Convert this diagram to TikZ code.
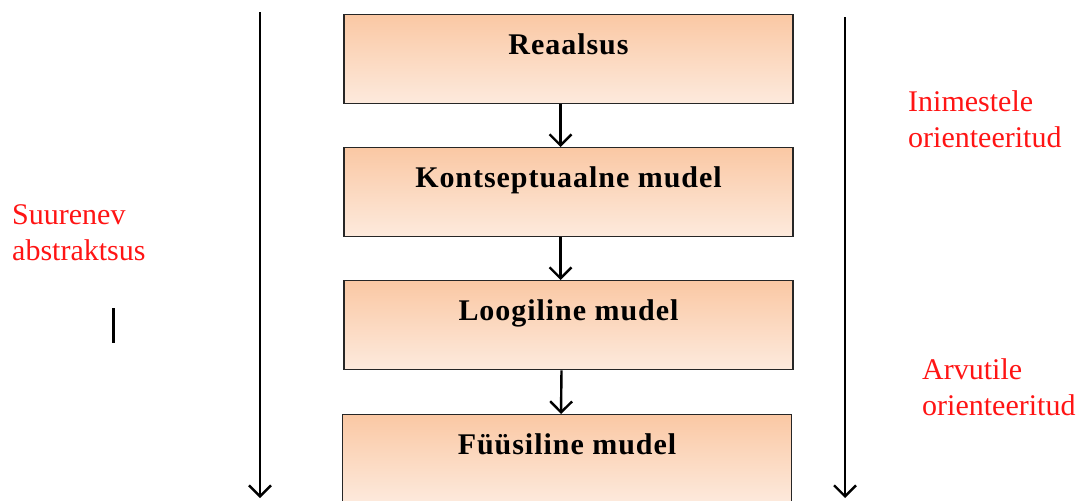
\documentclass[tikz,border=0pt]{standalone}
\usepackage{fontspec}
\setmainfont{Liberation Serif}
\newfontfamily\stagefont[LetterSpace=3.2]{Liberation Serif}
\usetikzlibrary{arrows.meta}
\definecolor{boxtop}{RGB}{250,200,164}
\definecolor{boxbot}{RGB}{253,234,221}
\definecolor{lblred}{RGB}{255,20,20}
\begin{document}
\begin{tikzpicture}[x=1pt,y=-1pt,
  stage/.style={draw=black!85, line width=1.4pt, top color=boxtop, bottom color=boxbot,
    minimum width=449pt, inner sep=0pt, text height=40pt, text depth=49pt,
    anchor=north, font=\stagefont\fontsize{30}{34}\selectfont\bfseries},
  redlbl/.style={text=lblred, align=left, inner sep=0pt, anchor=base west,
    font=\fontsize{30}{36}\selectfont},
  arr/.style={line width=2.4pt, -{Straight Barb[length=11pt,width=22pt,line width=2.4pt]}}]
  \useasboundingbox (0,0) rectangle (1088,501);
  \clip (0,0) rectangle (1088,501);

  % stages of modelling
  \node[stage] (real) at (568.5,14) {Reaalsus};
  \node[stage] (konts) at (568.5,147) {Kontseptuaalne mudel};
  \node[stage] (loog) at (568.5,280) {Loogiline mudel};
  \node[stage] (fyys) at (567,414) {Füüsiline mudel};

  % arrows between stages
  \draw[arr] ([xshift=-8pt]real.south) -- ([xshift=-8pt]konts.north);
  \draw[arr] ([xshift=-8pt]konts.south) -- ([xshift=-8pt]loog.north);
  \draw[arr] ([xshift=-7pt]loog.south) -- ([xshift=-6pt]fyys.north);

  % long side arrows
  \coordinate (lt) at (260,12);
  \coordinate (lb) at (260,498);
  \coordinate (rt) at (845,17);
  \coordinate (rb) at (845,498);
  \draw[arr] (lt) -- (lb);
  \draw[arr] (rt) -- (rb);

  % small mark on the left
  \coordinate (mt) at (113,308);
  \coordinate (mb) at (113,343);
  \draw[line width=3pt] (mt) -- (mb);

  % side labels (anchored at the baseline of their last line)
  \node[redlbl] (abs) at (12,260) {Suurenev\\abstraktsus};
  \node[redlbl] (inim) at (908,147) {Inimestele\\orienteeritud};
  \node[redlbl] (arv) at (922,415) {Arvutile\\orienteeritud};
\end{tikzpicture}
\end{document}
